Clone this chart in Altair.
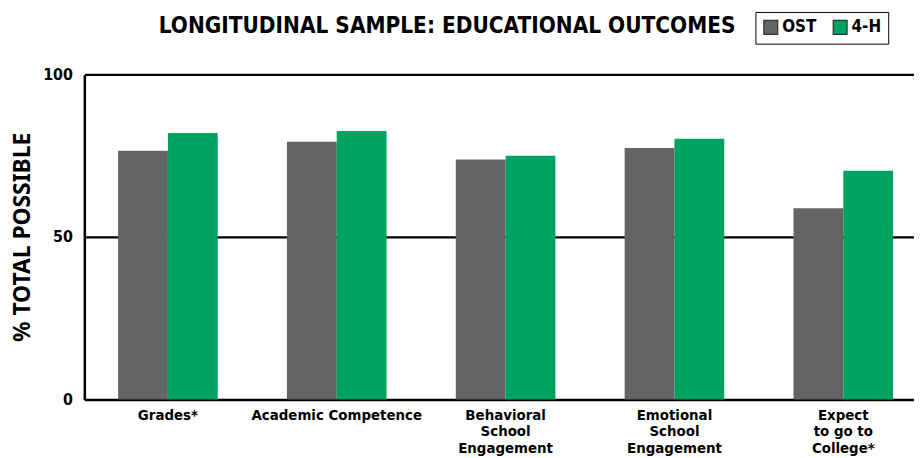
import altair as alt
import pandas as pd

categories = ["Grades*", "Academic Competence", "Behavioral|School|Engagement",
              "Emotional|School|Engagement", "Expect|to go to|College*"]
groups = ["OST", "4-H"]
ost_values = [76.5, 79.3, 73.8, 77.4, 58.8]
h4_values = [82.0, 82.6, 75.0, 80.2, 70.4]
y_ticks = [0, 50, 100]
title_text = "LONGITUDINAL SAMPLE: EDUCATIONAL OUTCOMES"
y_title = "% TOTAL POSSIBLE"

rows = []
for c, o, h in zip(categories, ost_values, h4_values):
    rows.append({"category": c, "group": "OST", "value": o})
    rows.append({"category": c, "group": "4-H", "value": h})
df = pd.DataFrame(rows)

FONT = "'DejaVu Sans Condensed', 'Liberation Sans', sans-serif"
W, H = 837, 328

bars = alt.Chart(df).mark_bar().encode(
    x=alt.X("category:N", sort=categories,
            scale=alt.Scale(paddingInner=0.41, paddingOuter=0.2, range=[0, 850]),
            axis=alt.Axis(title=None, labelAngle=0, ticks=False,
                          labelExpr="split(datum.label, '|')",
                          labelFont=FONT, labelFontSize=15, labelFontWeight="bold",
                          labelColor="black", labelLineHeight=16.5, labelPadding=8,
                          labelLimit=400, labelOverlap=False,
                          domainColor="black", domainWidth=2.5, grid=False,
                          labelBaseline="top")),
    xOffset=alt.XOffset("group:N", sort=groups),
    y=alt.Y("value:Q", scale=alt.Scale(domain=[0, 100], nice=False),
            axis=alt.Axis(values=y_ticks, title=y_title, ticks=False,
                          labelFont=FONT, labelFontSize=16, labelFontWeight="bold",
                          labelColor="black", labelPadding=12,
                          titleFont="Noto Sans", titleFontSize=23, titleFontWeight="bold",
                          titleColor="black", titlePadding=8,
                          domainColor="black", domainWidth=2.5,
                          grid=True, gridColor="black", gridWidth=2.2)),
    color=alt.Color("group:N", sort=groups,
                    scale=alt.Scale(domain=groups, range=["#636466", "#00A262"]),
                    legend=alt.Legend(title=None, orient="none", legendX=677, legendY=-63,
                                      direction="horizontal", strokeColor="black",
                                      padding=7, symbolType="square", symbolSize=196,
                                      symbolStrokeColor="#333333", symbolStrokeWidth=1.2,
                                      symbolOpacity=1,
                                      labelFont=FONT, labelFontSize=17, labelFontWeight="bold",
                                      labelColor="black", labelOffset=3, columnPadding=14)),
)

title_df = pd.DataFrame({"t": [title_text]})
title = alt.Chart(title_df).mark_text(
    font=FONT, fontSize=22.6, fontWeight="bold", color="black", align="center", baseline="middle"
).encode(text="t:N", x=alt.value(366), y=alt.value(-48.5))

chart = alt.layer(bars, title).properties(
    width=W, height=H,
    padding={"left": 77, "top": 65, "right": 0, "bottom": 57},
    autosize=alt.AutoSizeParams(type="none"),
).configure_view(stroke=None).configure_axis(labelFlush=False)

chart.save("out.html", embed_options={"renderer": "svg", "actions": False})
